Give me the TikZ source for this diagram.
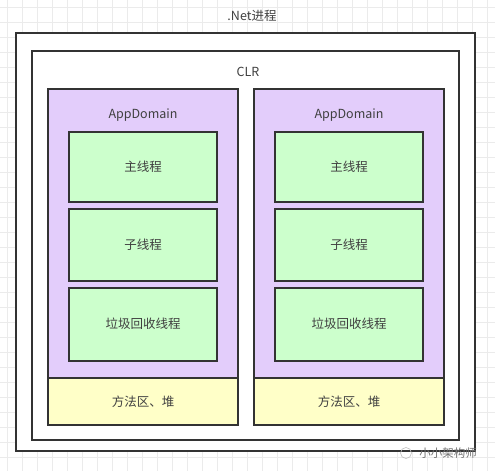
\documentclass[tikz,border=0pt]{standalone}
\usepackage{fontspec}
\setmainfont{Noto Sans CJK SC}
\begin{document}
\begin{tikzpicture}[x=1pt,y=-1pt,
  box/.style={draw=black!80, line width=1.6pt},
  lbl/.style={text=black!75, font=\fontsize{12.5}{14}\selectfont, inner sep=0pt},
  thread/.style={box, fill=thgreen},
]
\definecolor{thgreen}{HTML}{CCFFCC}
\definecolor{adpurple}{HTML}{E3CDFB}
\definecolor{heapyel}{HTML}{FFFFC8}
\definecolor{gridc}{HTML}{EBEBEB}
\useasboundingbox (0,0) rectangle (495,471);
\fill[white] (0,0) rectangle (495,471);
% faint background grid
\foreach \i in {0,...,33} {\draw[gridc, line width=0.5pt] (7+15*\i,0) -- (7+15*\i,471);}
\foreach \j in {0,...,31} {\draw[gridc, line width=0.5pt] (0,7+15*\j) -- (495,7+15*\j);}
% outer process
\node[lbl] (netlbl) at (252,16) {.Net进程};
\draw[box, fill=white] (16,33) rectangle (475,451);
\draw[box, fill=white] (32,51) rectangle (459,440);
\node[lbl] (clrlbl) at (248,72) {CLR};
% AppDomains
\foreach \side/\ox in {l/48, r/254} {
  \draw[box, fill=adpurple] (\ox,89) rectangle (\ox+190,378);
  \draw[box, fill=heapyel] (\ox,378) rectangle (\ox+190,425);
  \node[lbl] (ad\side) at (\ox+95,115) {AppDomain};
  \node[lbl] (heap\side) at (\ox+95,402) {方法区、堆};
  \draw[thread] (\ox+21,132) rectangle (\ox+169,202);
  \node[lbl] (main\side) at (\ox+95,167) {主线程};
  \draw[thread] (\ox+21,209) rectangle (\ox+169,281);
  \node[lbl] (sub\side) at (\ox+95,245) {子线程};
  \draw[thread] (\ox+21,288) rectangle (\ox+169,361);
  \node[lbl] (gc\side) at (\ox+95,324) {垃圾回收线程};
}
% watermark
\node[text=black!55, font=\fontsize{11.5}{12}\selectfont, inner sep=0pt] (wm) at (448,453) {小小架构师};
\draw[black!25, line width=0.6pt] (406,453) circle (5.5);
\end{tikzpicture}
\end{document}
